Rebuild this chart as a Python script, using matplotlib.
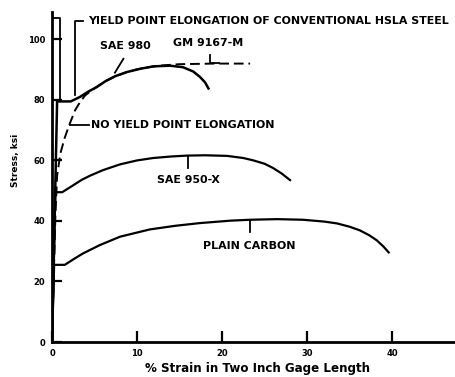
import matplotlib.pyplot as plt

# stress-strain curves (strain %, stress ksi)
carbon_strain = [0, 0.25, 1.5, 2.5, 3.6, 5.6, 8.0, 11.5, 14.5, 17.4, 21.0, 23.3, 26.5, 29.5, 32.0, 33.5, 35.0, 36.2, 37.3, 38.2, 39.0, 39.6]
carbon_stress = [0, 25.5, 25.5, 27.3, 29.2, 32.0, 34.8, 37.2, 38.4, 39.3, 40.1, 40.4, 40.6, 40.4, 39.8, 39.2, 38.1, 36.9, 35.3, 33.6, 31.5, 29.6]

x950_strain = [0, 0.4, 1.2, 2.5, 3.5, 4.5, 6.0, 8.0, 10.0, 11.9, 14.0, 15.9, 18.0, 20.6, 22.5, 23.7, 25.0, 26.0, 27.0, 28.0]
x950_stress = [0, 49.5, 49.5, 51.8, 53.6, 55.0, 56.8, 58.7, 60.0, 60.8, 61.3, 61.6, 61.7, 61.5, 60.8, 60.0, 58.9, 57.5, 55.7, 53.5]

sae980_strain = [0, 0.6, 2.2, 3.3, 4.3, 5.3, 6.3, 7.4, 8.8, 10.4, 12.0, 13.9, 15.4, 16.6, 17.4, 18.0, 18.4]
sae980_stress = [0, 79.5, 79.5, 81.0, 82.8, 84.3, 86.2, 87.8, 89.2, 90.3, 91.1, 91.3, 90.8, 89.4, 87.6, 85.8, 83.8]

gm_strain = [0, 0.4, 0.6, 1.0, 1.5, 2.0, 2.7, 3.3, 3.9, 4.6, 5.5, 6.5, 7.5, 8.8, 10.0, 11.5, 13.0, 15.0, 17.0, 19.0, 21.0, 23.3]
gm_stress = [0, 42.0, 55.0, 62.5, 67.5, 71.5, 76.5, 79.3, 81.5, 83.0, 84.8, 86.5, 87.8, 89.2, 90.1, 90.9, 91.4, 91.8, 91.9, 92.0, 92.0, 92.0]

xticks = [0, 10, 20, 30, 40]
yticks = [0, 20, 40, 60, 80, 100]

lbl = dict(fontsize=7.9, fontweight='bold', family='DejaVu Sans')

fig = plt.figure(figsize=(4.55, 3.77), dpi=100)
ax = fig.add_axes([0.1143, 0.0928, 0.8857, 0.875])

ax.plot(carbon_strain, carbon_stress, color='black', lw=1.6)
ax.plot(x950_strain, x950_stress, color='black', lw=1.6)
ax.plot(sae980_strain, sae980_stress, color='black', lw=1.8)
ax.plot(gm_strain, gm_stress, color='black', lw=1.4, dashes=(5, 2.5))

# pointers and labels
ax.plot([0.95, 0.95, 0], [80, 107, 107], color='black', lw=1.3)
ax.plot([2.7, 2.7, 3.6], [81.5, 106, 106], color='black', lw=1.3)
ax.text(4.2, 106.2, 'YIELD POINT ELONGATION OF CONVENTIONAL HSLA STEEL', va='center', **lbl)

ax.plot([8.4, 7.4], [93.6, 89.0], color='black', lw=1.3)
ax.text(8.6, 97.7, 'SAE 980', ha='center', va='center', **lbl)

ax.plot([18.6, 18.6, 19.6], [94.8, 92.2, 92.2], color='black', lw=1.3)
ax.text(18.4, 98.7, 'GM 9167-M', ha='center', va='center', **lbl)

ax.plot([2.1, 4.4], [71.8, 71.8], color='black', lw=1.3)
ax.text(4.6, 71.8, 'NO YIELD POINT ELONGATION', va='center', **lbl)

ax.plot([16.0, 16.0], [61.6, 57.5], color='black', lw=1.3)
ax.text(16.0, 53.6, 'SAE 950-X', ha='center', va='center', **lbl)

ax.plot([23.3, 23.3], [40.4, 36.2], color='black', lw=1.3)
ax.text(23.2, 31.8, 'PLAIN CARBON', ha='center', va='center', **lbl)

ax.set_xlim(0, 47.4)
ax.set_ylim(0, 109)
ax.set_xticks(xticks)
ax.set_yticks(yticks)
ax.tick_params(direction='in', width=1.6, labelsize=6)
ax.tick_params(axis='x', length=8, pad=5)
ax.tick_params(axis='y', length=7, pad=5)
for t in ax.get_xticklabels() + ax.get_yticklabels():
    t.set_fontweight('bold')
for s in ['top', 'right']:
    ax.spines[s].set_visible(False)
for s in ['left', 'bottom']:
    ax.spines[s].set_linewidth(2)

ax.set_xlabel('% Strain in Two Inch Gage Length', fontsize=8.6, fontweight='bold')
ax.xaxis.set_label_coords(0.51, -0.062)
ax.set_ylabel('Stress, ksi', fontsize=6.5, fontweight='bold')
ax.yaxis.set_label_coords(-0.08, 0.55)

fig.savefig('out.png', dpi=100)
